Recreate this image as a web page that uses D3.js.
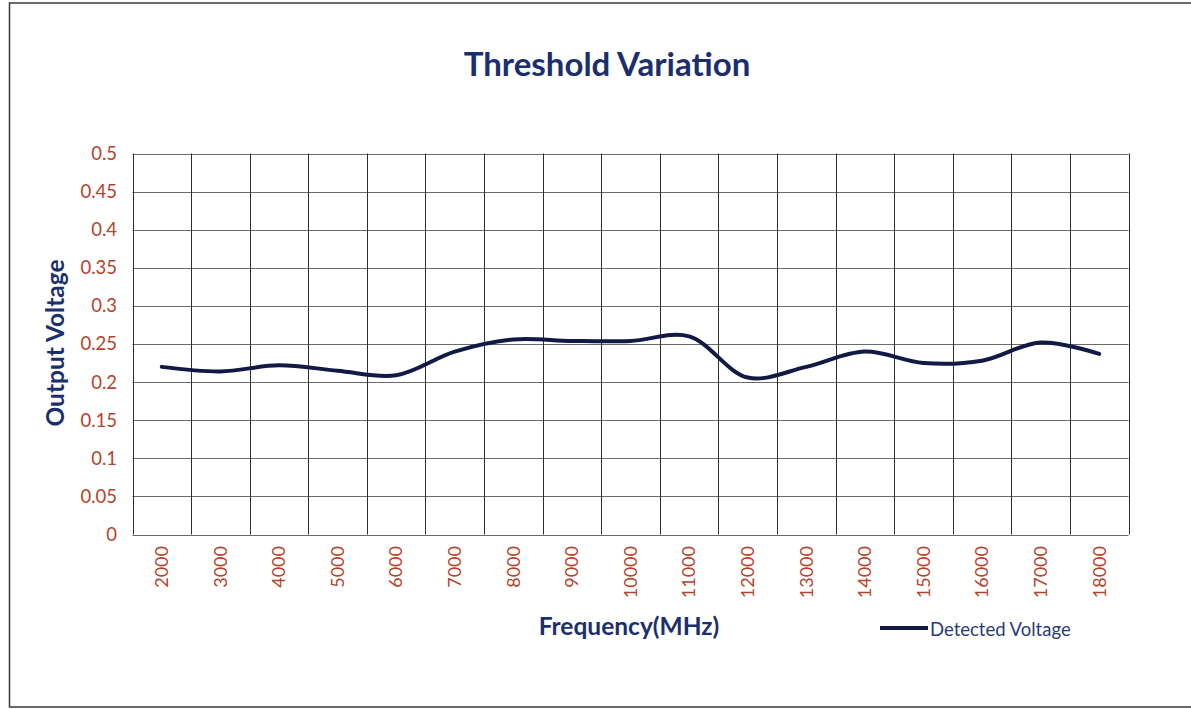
<!DOCTYPE html>
<html>
<head>
<meta charset="utf-8">
<script src="https://cdn.jsdelivr.net/npm/d3@7"></script>
<style>
  body { margin: 0; background: #fff; }
  svg { display: block; }
</style>
</head>
<body>
<script>
// chart values
const frequencies = [2000, 3000, 4000, 5000, 6000, 7000, 8000, 9000, 10000,
  11000, 12000, 13000, 14000, 15000, 16000, 17000, 18000];
const detectedVoltage = [0.220, 0.214, 0.222, 0.215, 0.209, 0.240, 0.256, 0.254, 0.254,
  0.260, 0.206, 0.220, 0.240, 0.225, 0.228, 0.252, 0.237];
const yTicks = [0, 0.05, 0.1, 0.15, 0.2, 0.25, 0.3, 0.35, 0.4, 0.45, 0.5];

const W = 1191, H = 709;
const NAVY = "#1b2f6e";
const TICK_RED = "#b5432a";
const FONT = "Lato, 'Open Sans', sans-serif";

const svg = d3.select("body").append("svg")
  .attr("width", W)
  .attr("height", H);

// outer frame
svg.append("path")
  .attr("d", "M1191,3 H9.5 V707 H1191")
  .attr("fill", "none")
  .attr("stroke", "#3a3a3a")
  .attr("stroke-width", 1.5);

const plot = { left: 132.5, top: 153.5, right: 1128.5, bottom: 534.5 };

const x = d3.scaleBand()
  .domain(frequencies)
  .range([plot.left, plot.right])
  .padding(0);

const y = d3.scaleLinear()
  .domain([0, 0.5])
  .range([plot.bottom, plot.top]);

const grid = svg.append("g")
  .attr("stroke-width", 1);

// horizontal gridlines
grid.selectAll("line.h")
  .data(yTicks)
  .join("line")
  .attr("class", "h")
  .attr("x1", plot.left)
  .attr("x2", plot.right)
  .attr("y1", d => Math.round(y(d)) + 0.5)
  .attr("y2", d => Math.round(y(d)) + 0.5)
  .attr("stroke", "#6a6a6a");

// vertical gridlines at category boundaries
const bounds = frequencies.map(f => x(f)).concat([plot.right]);
grid.selectAll("line.v")
  .data(bounds)
  .join("line")
  .attr("class", "v")
  .attr("x1", d => Math.round(d) + 0.5)
  .attr("x2", d => Math.round(d) + 0.5)
  .attr("y1", plot.top)
  .attr("y2", plot.bottom)
  .attr("stroke", "#2e2e2e");

// y tick labels
svg.append("g")
  .selectAll("text")
  .data(yTicks)
  .join("text")
  .attr("x", 117)
  .attr("y", d => y(d))
  .attr("dy", "0.35em")
  .attr("text-anchor", "end")
  .attr("font-family", FONT)
  .attr("font-size", 18.5)
  .attr("fill", TICK_RED)
  .text(d => d);

// x tick labels, rotated
svg.append("g")
  .selectAll("text")
  .data(frequencies)
  .join("text")
  .attr("transform", d => `translate(${x(d) + x.bandwidth() / 2},546) rotate(-90)`)
  .attr("dy", "0.35em")
  .attr("text-anchor", "end")
  .attr("font-family", FONT)
  .attr("font-size", 18)
  .attr("fill", TICK_RED)
  .text(d => d);

// series line
const line = d3.line()
  .x((d, i) => x(frequencies[i]) + x.bandwidth() / 2)
  .y(d => y(d))
  .curve(d3.curveCatmullRom.alpha(0.5));

svg.append("path")
  .datum(detectedVoltage)
  .attr("d", line)
  .attr("fill", "none")
  .attr("stroke", "#101a44")
  .attr("stroke-width", 4)
  .attr("stroke-linecap", "round")
  .attr("stroke-linejoin", "round");

// title
svg.append("text")
  .attr("x", 607)
  .attr("y", 76)
  .attr("text-anchor", "middle")
  .attr("font-family", FONT)
  .attr("font-weight", "bold")
  .attr("font-size", 33)
  .attr("fill", NAVY)
  .text("Threshold Variation");

// axis titles
svg.append("text")
  .attr("transform", "translate(64,343) rotate(-90)")
  .attr("text-anchor", "middle")
  .attr("font-family", FONT)
  .attr("font-weight", "bold")
  .attr("font-size", 24.5)
  .attr("fill", NAVY)
  .text("Output Voltage");

svg.append("text")
  .attr("x", 629)
  .attr("y", 635)
  .attr("text-anchor", "middle")
  .attr("font-family", FONT)
  .attr("font-weight", "bold")
  .attr("font-size", 24.5)
  .attr("fill", NAVY)
  .text("Frequency(MHz)");

// legend
const legend = svg.append("g").attr("transform", "translate(880,628)");
legend.append("line")
  .attr("x1", 0).attr("x2", 48)
  .attr("y1", 0).attr("y2", 0)
  .attr("stroke", "#101a44")
  .attr("stroke-width", 4);
legend.append("text")
  .attr("x", 50)
  .attr("y", 0)
  .attr("dy", "0.45em")
  .attr("font-family", FONT)
  .attr("font-size", 18.5)
  .attr("fill", "#2a3b7c")
  .text("Detected Voltage");
</script>
</body>
</html>
